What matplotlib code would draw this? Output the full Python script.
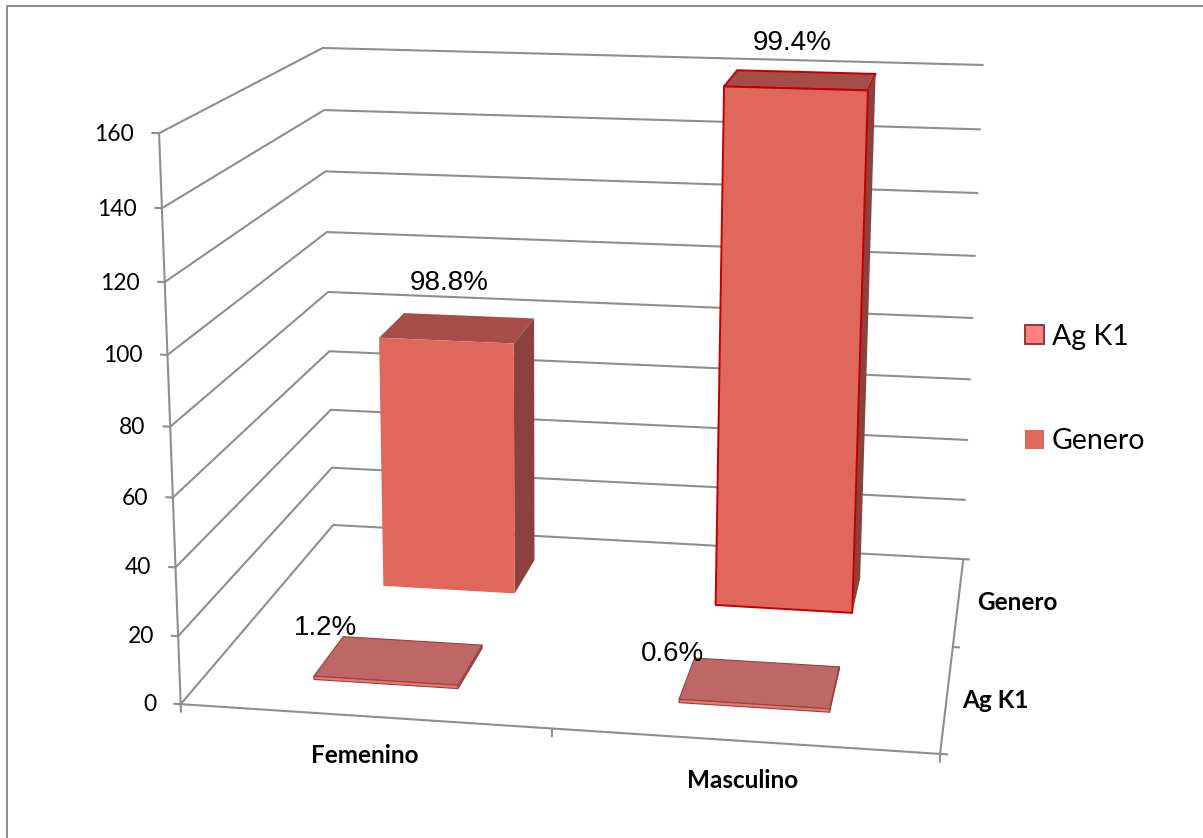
import numpy as np
import matplotlib
matplotlib.use("Agg")
import matplotlib.pyplot as plt
from matplotlib.patches import Patch
from matplotlib.lines import Line2D
from mpl_toolkits.mplot3d.art3d import Line3DCollection

categories = ["Femenino", "Masculino"]
series = ["Ag K1", "Genero"]
ag_k1 = [1, 1]
genero = [80, 160]
z_ticks = [0, 20, 40, 60, 80, 100, 120, 140, 160]

W, H = 1203, 838
LABEL_FONT = ["Lato", "DejaVu Sans"]
PCT_FONT = ["Liberation Sans", "DejaVu Sans"]
GRID = "#8e8e8e"

# camera calibration: (category, depth, value) -> pixel on the canvas
cam_world = np.array([
    [0, 0, 0], [2, 0, 0], [2, 2, 0], [0, 2, 0],
    [0, 0, 160], [0, 2, 160], [2, 2, 160],
    [0, 0, 80], [0, 2, 80], [2, 2, 80],
], dtype=float)
cam_pixel = np.array([
    [181, 704], [940, 754], [963, 559], [333, 525],
    [159, 133], [323, 48], [983, 65],
    [170, 427], [328, 292], [974, 318],
], dtype=float)


def solve_camera(world, pixel):
    rows, rhs = [], []
    for (x, y, z), (u, v) in zip(world, pixel):
        v = H - v
        rows.append([x, y, z, 1, 0, 0, 0, 0, -u*x, -u*y, -u*z])
        rhs.append(u)
        rows.append([0, 0, 0, 0, x, y, z, 1, -v*x, -v*y, -v*z])
        rhs.append(v)
    p = np.linalg.lstsq(np.array(rows), np.array(rhs), rcond=None)[0]
    return np.append(p, 1.0).reshape(3, 4)


def px(x, y):
    return x / W, 1 - y / H


fig = plt.figure(figsize=(W / 100, H / 100), dpi=100)
ax = fig.add_subplot(projection="3d", computed_zorder=False)
# square 3d box that covers the whole canvas
ax.set_position([0, (1 - W / H) / 2, 1, W / H])
ax.set_axis_off()

camera = solve_camera(cam_world, cam_pixel)


def get_proj():
    to_view = ax.transData.inverted().get_matrix()
    m = to_view @ camera
    return np.array([m[0], m[1], [0, 1, 0, 0.01], m[2]])


ax.get_proj = get_proj


def fig_xy(x, y, z):
    u, v, w = camera @ np.array([x, y, z, 1.0])
    return u / w / W, v / w / H


# walls and floor
segments = []
for z in z_ticks:
    segments.append([(0, 0, z), (0, 2, z), (2, 2, z)])
    segments.append([(-0.02, 0, z), (0, 0, z)])
    tx, ty = fig_xy(-0.066, 0, z)
    fig.text(tx, ty - 2 / H, str(z), family=LABEL_FONT, fontsize=16.5,
             ha="right", va="center", color="black")
segments.append([(0, 0, -2.5), (0, 0, 160)])
segments.append([(0, 0, 0), (2, 0, 0), (2, 2, 0)])
for x in [1, 2]:
    segments.append([(x, 0, 0), (x, 0, -2.5)])
for d in [0, 1, 2]:
    segments.append([(2, d, 0), (2.02, d, 0)])
ax.add_collection3d(Line3DCollection(segments, colors=GRID, linewidths=1.5, zorder=1),
                    autolim=False)

CLEAR = (0, 0, 0, 0)
BAR_W = 0.4


def draw_bar(cat, row, value, faces, edges, lw, zorder):
    x0 = cat + 0.5 - BAR_W / 2
    y0 = row + 0.5 - BAR_W / 2
    # face order of bar3d: bottom, top, front, back, left, right
    ax.bar3d([x0], [y0], [0], BAR_W, BAR_W, value, shade=False,
             color=[CLEAR, faces[0], faces[1], CLEAR, CLEAR, faces[2]],
             edgecolor=[CLEAR, edges[0], edges[1], CLEAR, CLEAR, edges[2]],
             linewidth=lw, zorder=zorder)


no_edge = (CLEAR, CLEAR, CLEAR)
tall_faces = ("#a64d48", "#df675c", "#8c423c")
slab_faces = ("#bf6766", "#ee7670", "#a04a48")
slab_edges = ("#96423f", "#96423f", "#96423f")

draw_bar(0, 1, genero[0], tall_faces, no_edge, 0, 3)
draw_bar(1, 1, genero[1], tall_faces, ("#c00000", "#c00000", CLEAR), 1.4, 3)
for i in range(2):
    draw_bar(i, 0, ag_k1[i], slab_faces, slab_edges, 0.8, 4)

# percentage labels over each bar
pct_pos = [[(325, 628), (449, 283)], [(672, 654), (792, 43)]]
for i in range(2):
    total = ag_k1[i] + genero[i]
    for j, v in enumerate([ag_k1[i], genero[i]]):
        fig.text(*px(*pct_pos[i][j]), f"{100 * v / total:.1f}%", family=PCT_FONT,
                 fontsize=20, ha="center", va="center", color="black", zorder=7)

# category and depth axis labels
cat_pos = [(365, 755), (743, 780)]
for name, pos in zip(categories, cat_pos):
    fig.text(*px(*pos), name, family=LABEL_FONT, fontsize=17.5, weight="bold",
             ha="center", va="center")
row_pos = [(995, 700), (1017, 602)]
for name, pos in zip(series, row_pos):
    fig.text(*px(*pos), name, family=LABEL_FONT, fontsize=17.5, weight="bold",
             ha="center", va="center")

handles = [
    Patch(facecolor="#ff8080", edgecolor="#8c3a3a", linewidth=1.4),
    Patch(facecolor="#df675c", edgecolor="none"),
]
fig.legend(handles, series, loc="center left", bbox_to_anchor=px(1025, 389),
           frameon=False, handlelength=0.65, handleheight=0.65,
           handletextpad=0.3, labelspacing=2.75, borderpad=0, borderaxespad=0,
           prop={"family": LABEL_FONT, "size": 20.5})

# outer chart frame, cut by the picture at the bottom and right
fig.add_artist(Line2D([6.5 / W, 6.5 / W, 1],
                      [0, 1 - 6.5 / H, 1 - 6.5 / H],
                      color="#8a8a8a", lw=1.4))

fig.savefig("out.png", dpi=100)
